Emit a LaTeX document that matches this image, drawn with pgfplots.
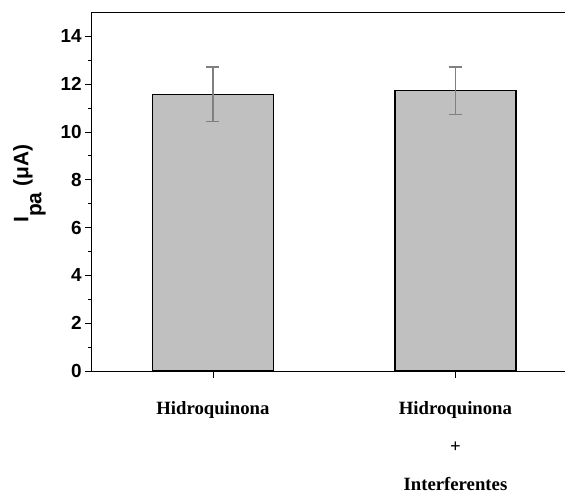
\documentclass[border=0pt]{standalone}
\usepackage{pgfplots}
\pgfplotsset{compat=1.18}
\usepackage{fontspec}
\setmainfont{Liberation Sans}
\newfontfamily\timesfont{Liberation Serif}
\definecolor{barfill}{RGB}{192,192,192}
\definecolor{errgray}{RGB}{128,128,128}
\begin{document}
\begin{tikzpicture}
\begin{axis}[
  at={(0,0)}, anchor=south west,
  scale only axis, width=485bp, height=358.5bp,
  xmin=0.5, xmax=2.5, ymin=0, ymax=15,
  axis line style={line width=0.8bp},
  tick style={black, line width=0.8bp},
  tick align=outside,
  major tick length=6.5bp, minor tick length=3.5bp,
  xtick pos=bottom, ytick pos=left,
  xtick={1,2},
  xticklabels={{Hidroquinona},{Hidroquinona\\+\\Interferentes}},
  xticklabel style={align=center, font=\timesfont\bfseries\fontsize{18.8}{38.5}\selectfont, yshift=-20bp},
  ytick={0,2,...,14},
  minor ytick={1,3,...,13},
  yticklabel style={font=\bfseries\fontsize{19}{22}\selectfont},
  /pgf/number format/assume math mode=true,
  ylabel={I\raisebox{-13bp}{pa} (μA)},
  ylabel style={font=\bfseries\fontsize{21}{25}\selectfont, inner sep=0pt,
    at={(rel axis cs:-0.0942,0.522)}, anchor=south},
  ybar, bar width=121bp,
]
\addplot[fill=barfill, draw=black, line width=1.3bp,
  error bars/.cd, y dir=both, y explicit,
  error bar style={errgray, line width=1.3bp},
  error mark options={errgray, rotate=90, mark size=6.5bp, line width=1.3bp}]
  coordinates {(1,11.58) +- (0,1.14) (2,11.73) +- (0,0.99)};
\end{axis}
\pgfresetboundingbox
\path (-91.7bp,-124bp) rectangle (473.3bp,371bp);
\end{tikzpicture}
\end{document}
